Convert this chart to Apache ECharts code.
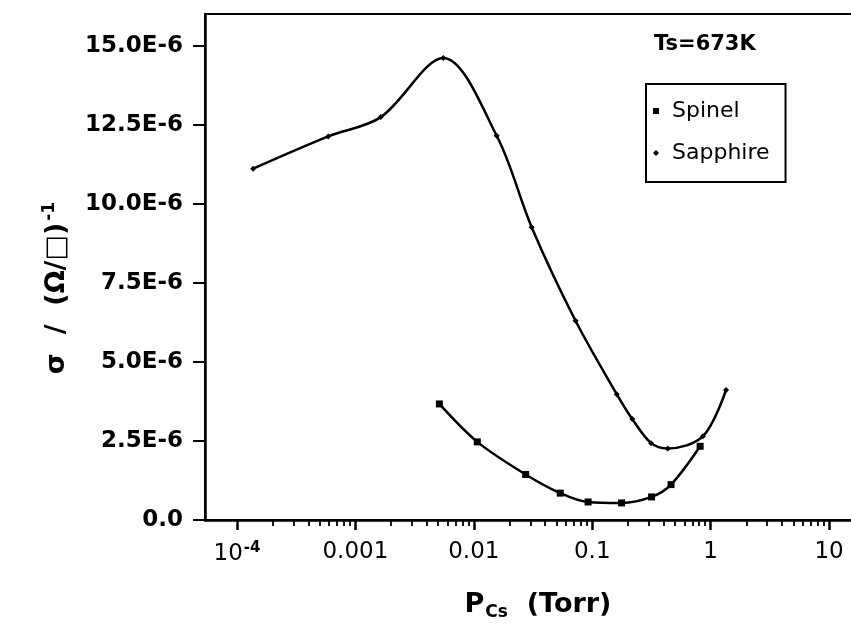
<!DOCTYPE html>
<html><head><meta charset="utf-8">
<script src="https://cdn.jsdelivr.net/npm/echarts@6/dist/echarts.min.js"></script>
<style>html,body{margin:0;padding:0;background:#fff}#c{width:851px;height:626px}</style>
</head><body><div id="c"></div>
<script>
// ---- data (P in Torr, sigma in (Ohm/sq)^-1) ----
const spinelP = [5.12e-3, 0.0107, 0.0274, 0.0537, 0.0923, 0.177, 0.317, 0.463, 0.815];
const spinelSigma = [3.67e-6, 2.47e-6, 1.44e-6, 0.85e-6, 0.57e-6, 0.54e-6, 0.73e-6, 1.12e-6, 2.33e-6];
const sapphireP = [1.37e-4, 5.9e-4, 1.64e-3, 5.52e-3, 0.0156, 0.0308, 0.0723, 0.161, 0.218, 0.314, 0.434, 0.861, 1.35];
const sapphireSigma = [11.11e-6, 12.13e-6, 12.74e-6, 14.61e-6, 12.15e-6, 9.26e-6, 6.30e-6, 3.98e-6, 3.19e-6, 2.43e-6, 2.26e-6, 2.65e-6, 4.11e-6];
// ---- axis ticks ----
const xMajorTicks = [1e-4, 1e-3, 1e-2, 1e-1, 1, 10];
const xMajorLabels = ['{b|10}{sup|-4}', '0.001', '0.01', '0.1', '1', '10'];
const xMinorTicks = [];
for (let e = -4; e <= 1; e++) for (let k = 2; k <= 9; k++) xMinorTicks.push(+(k * Math.pow(10, e)).toPrecision(3));
const yTicks = [0, 2.5e-6, 5e-6, 7.5e-6, 10e-6, 12.5e-6, 15e-6];
const yTickLabels = ['0.0', '2.5E-6', '5.0E-6', '7.5E-6', '10.0E-6', '12.5E-6', '15.0E-6'];

const X_MIN = 5.37e-5, X_MAX = 22.6, Y_MIN = 0, Y_MAX = 16e-6;
const FONT = 'DejaVu Sans, Verdana, sans-serif';

function pairs(xs, ys) { return xs.map((x, i) => [x, ys[i]]); }
function nearIdx(arr, v) {
  for (let i = 0; i < arr.length; i++) if (Math.abs(Math.log10(arr[i]) - Math.log10(v)) < 0.01) return i;
  return -1;
}

const chart = echarts.init(document.getElementById('c'), null, {renderer: 'canvas'});
chart.setOption({
  backgroundColor: '#fff',
  animation: false,
  grid: {left: 205, top: 14, right: -20, bottom: 106, containLabel: false, outerBoundsMode: 'none',
         show: true, borderColor: '#000', borderWidth: 2, backgroundColor: 'transparent'},
  legend: {
    orient: 'vertical', left: 646, top: 84,
    data: [{name: 'Spinel', icon: 'rect'}, {name: 'Sapphire', icon: 'diamond'}],
    itemWidth: 6, itemHeight: 6, itemGap: 20,
    padding: [16, 16, 18, 7],
    borderColor: '#000', borderWidth: 2,
    textStyle: {fontSize: 22, color: '#000', fontFamily: FONT, padding: [0, 0, 0, 8]},
    selectedMode: false
  },
  graphic: [{
    type: 'text', x: 654, y: 45,
    style: {text: 'Ts=673K', font: 'bold 21px ' + FONT, fill: '#000', verticalAlign: 'middle', align: 'left'}
  }, {
    type: 'text', x: 57, y: 288, rotation: Math.PI / 2,
    style: {
      text: '{n|σ  /  (Ω/□)}{sup|-1}', align: 'center', verticalAlign: 'middle',
      rich: {n: {fontSize: 27, fontWeight: 'bold', fontFamily: FONT, fill: '#000', color: '#000'},
             sup: {fontSize: 17, fontWeight: 'bold', fontFamily: FONT, fill: '#000', color: '#000', verticalAlign: 'top', padding: [0, 0, 14, 2]}}
    }
  }],
  xAxis: [{
    type: 'log', logBase: 10, min: X_MIN, max: X_MAX, position: 'bottom',
    axisLine: {lineStyle: {color: '#000', width: 2.5}},
    axisTick: {length: 10, lineStyle: {color: '#000', width: 2.5}, customValues: xMajorTicks},
    axisLabel: {
      customValues: xMajorTicks, margin: 21, color: '#000', fontSize: 23, fontFamily: FONT,
      formatter: v => { const i = nearIdx(xMajorTicks, v); return i < 0 ? '' : xMajorLabels[i]; },
      rich: {b: {fontSize: 23, fontFamily: FONT, color: '#000'}, sup: {fontSize: 15, fontFamily: FONT, color: '#000', fontWeight: 'bold', verticalAlign: 'top', padding: [0, 0, 12, 1]}}
    },
    splitLine: {show: false},
    name: '{p|P}{sub|Cs}{p|  (Torr)}', nameLocation: 'middle', nameGap: 69,
    nameTextStyle: {
      rich: {p: {fontSize: 27, fontWeight: 'bold', fontFamily: FONT, color: '#000'},
             sub: {fontSize: 17, fontWeight: 'bold', fontFamily: FONT, color: '#000', padding: [15, 0, 0, 1]}}
    }
  }, {
    type: 'log', logBase: 10, min: X_MIN, max: X_MAX, position: 'bottom',
    axisLine: {show: false},
    axisTick: {length: 6, lineStyle: {color: '#000', width: 1.8}, customValues: xMinorTicks},
    axisLabel: {show: false},
    splitLine: {show: false}
  }],
  yAxis: [{
    type: 'value', min: Y_MIN, max: Y_MAX, interval: 2.5e-6,
    axisLine: {show: true, lineStyle: {color: '#000', width: 2.5}},
    axisTick: {show: true, length: 12, lineStyle: {color: '#000', width: 2}, customValues: yTicks},
    axisLabel: {
      customValues: yTicks, margin: 22, color: '#000', fontSize: 23, fontWeight: 'bold', fontFamily: FONT,
      formatter: v => { const i = yTicks.findIndex(t => Math.abs(t - v) < 1e-9); return i < 0 ? '' : yTickLabels[i]; }
    },
    splitLine: {show: false}
  }],
  series: [{
    name: 'Spinel', type: 'line', xAxisIndex: 0, smooth: 0.33,
    data: pairs(spinelP, spinelSigma),
    symbol: 'rect', symbolSize: 7,
    lineStyle: {color: '#000', width: 2.5},
    itemStyle: {color: '#000'}
  }, {
    name: 'Sapphire', type: 'line', xAxisIndex: 0, smooth: 0.33,
    data: pairs(sapphireP, sapphireSigma),
    symbol: 'diamond', symbolSize: 6,
    lineStyle: {color: '#000', width: 2.5},
    itemStyle: {color: '#000'}
  }]
});
</script></body></html>
